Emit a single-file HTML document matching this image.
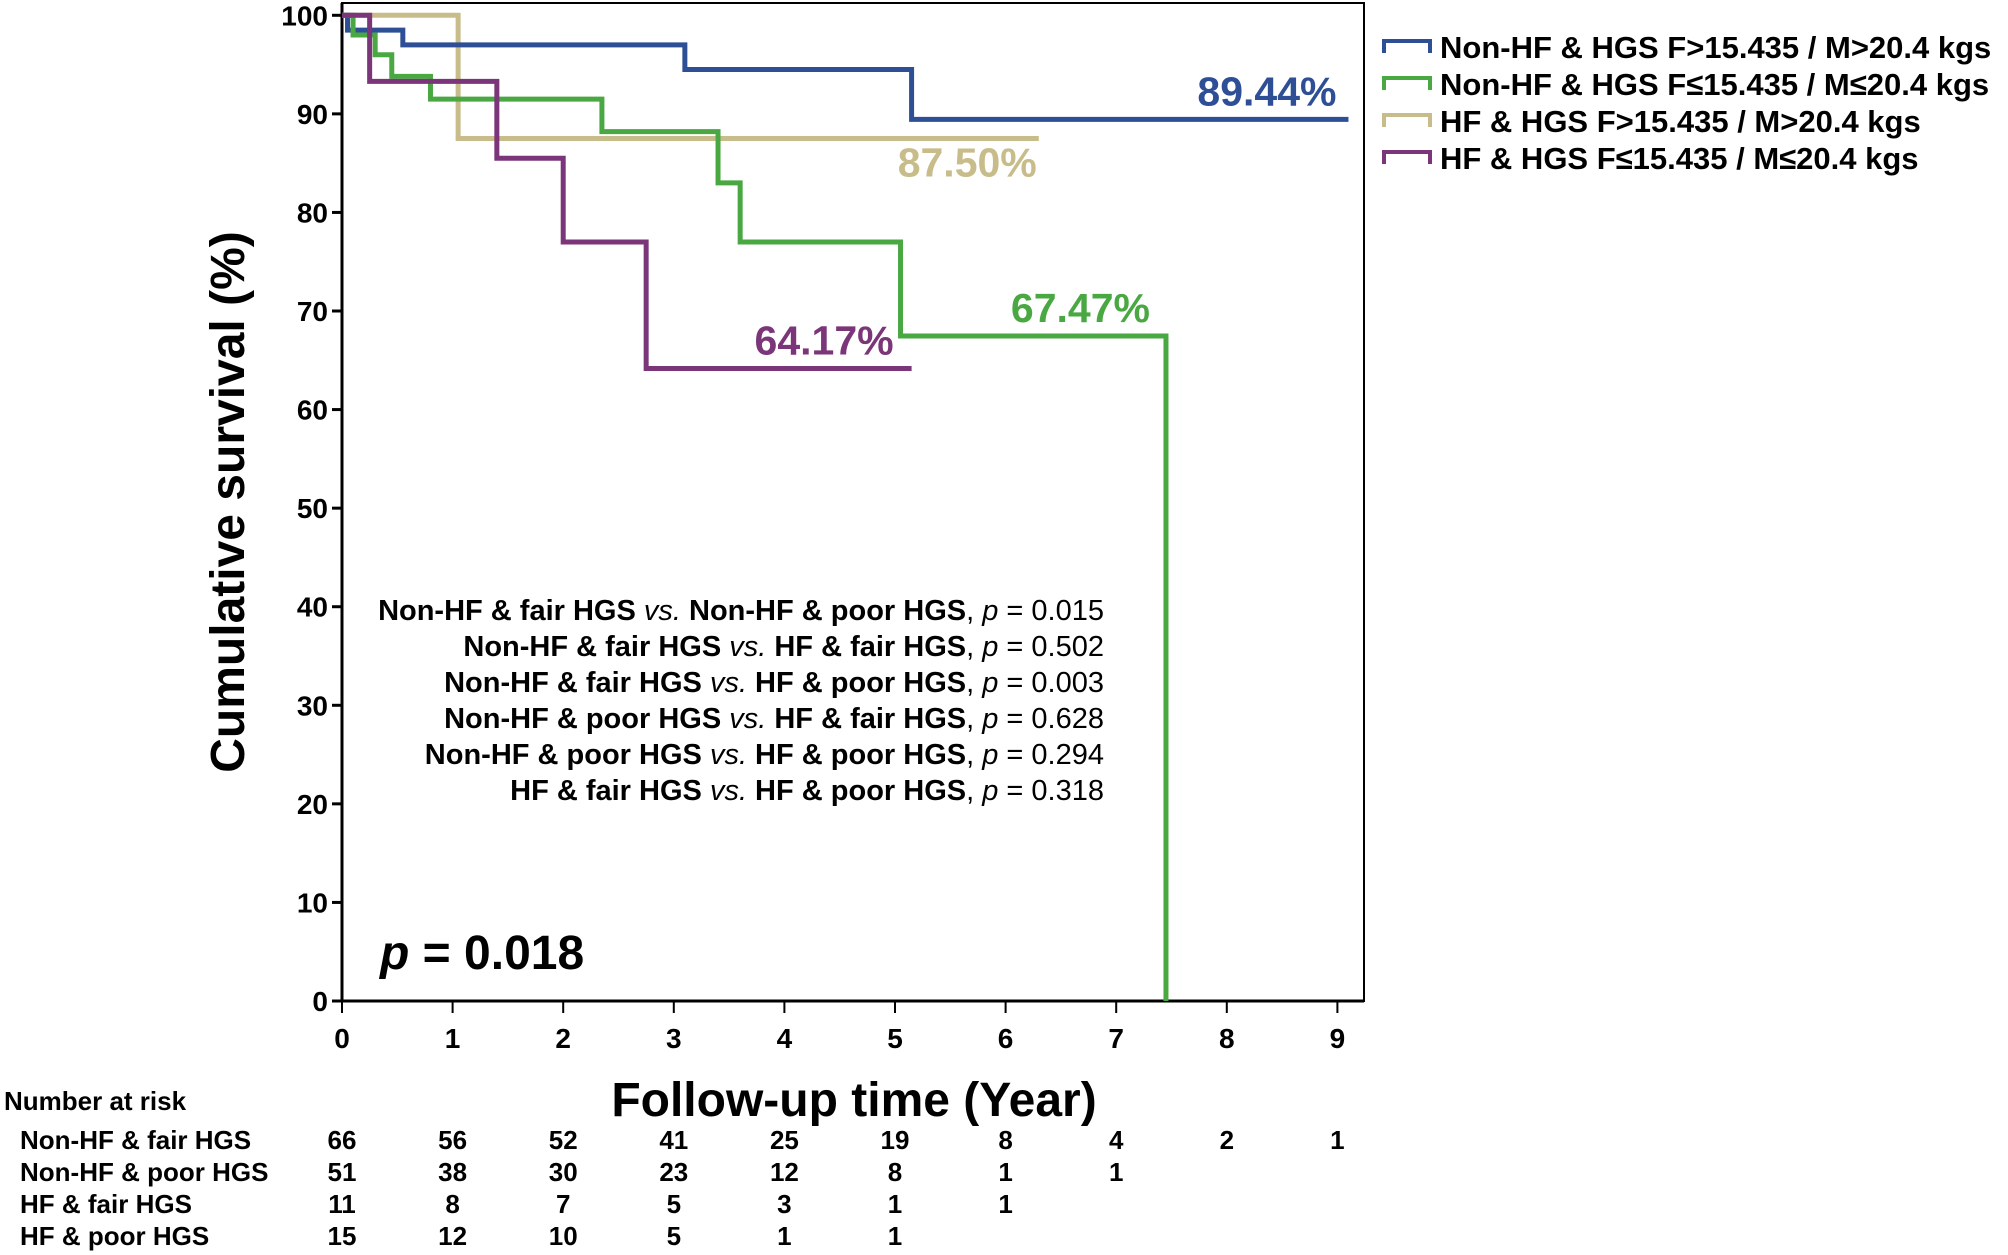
<!DOCTYPE html>
<html><head><meta charset="utf-8"><style>
html,body{margin:0;padding:0;background:#fff;}
svg{display:block;font-family:"Liberation Sans",Arial,sans-serif;font-weight:bold;}
</style></head><body>
<svg id="chart" width="2008" height="1255" viewBox="0 0 2008 1255"></svg>
<script>
const xTicks=[0,1,2,3,4,5,6,7,8,9];
const yTicks=[0,10,20,30,40,50,60,70,80,90,100];
const seriesNames=["Non-HF & HGS F>15.435 / M>20.4 kgs","Non-HF & HGS F\u226415.435 / M\u226420.4 kgs","HF & HGS F>15.435 / M>20.4 kgs","HF & HGS F\u226415.435 / M\u226420.4 kgs"];
const blueT=[0,0.05,0.55,3.1,5.15,9.1];
const blueS=[100,98.5,97,94.5,89.44,89.44];
const greenT=[0,0.1,0.3,0.45,0.8,2.35,3.4,3.6,5.05,7.45,7.45];
const greenS=[100,98,96,93.8,91.5,88.2,83,77,67.47,67.47,0];
const tanT=[0,1.05,6.3];
const tanS=[100,87.5,87.5];
const purpleT=[0,0.25,1.4,2.0,2.75,5.15];
const purpleS=[100,93.3,85.5,77,64.17,64.17];
const endLabels=["89.44%","67.47%","87.50%","64.17%"];
const riskGroups=["Non-HF & fair HGS","Non-HF & poor HGS","HF & fair HGS","HF & poor HGS"];
const risk1=[66,56,52,41,25,19,8,4,2,1];
const risk2=[51,38,30,23,12,8,1,1];
const risk3=[11,8,7,5,3,1,1];
const risk4=[15,12,10,5,1,1];
const pTexts=[["Non-HF & fair HGS ","Non-HF & poor HGS","0.015"],["Non-HF & fair HGS ","HF & fair HGS","0.502"],["Non-HF & fair HGS ","HF & poor HGS","0.003"],["Non-HF & poor HGS ","HF & fair HGS","0.628"],["Non-HF & poor HGS ","HF & poor HGS","0.294"],["HF & fair HGS ","HF & poor HGS","0.318"]];

const X0=342,XPER=110.6,Y0=1001,YPER=9.857;
const sx=t=>X0+t*XPER, sy=v=>Y0-v*YPER;
const svg=document.getElementById('chart');
const NS='http://www.w3.org/2000/svg';
function mk(tag,attrs,parent){const e=document.createElementNS(NS,tag);for(const k in attrs)e.setAttribute(k,attrs[k]);(parent||svg).appendChild(e);return e;}
function txt(s,x,y,size,anchor,fill,parent){const e=mk('text',{x:x,y:y,'font-size':size,'text-anchor':anchor||'start',fill:fill||'#000'},parent);e.textContent=s;return e;}

const frame=mk('rect',{x:X0,y:3,width:1364-X0,height:Y0-3,fill:'none',stroke:'#000','stroke-width':2});


mk('line',{x1:X0,y1:Y0,x2:1364,y2:Y0,stroke:'#000','stroke-width':3});
mk('line',{x1:X0,y1:3,x2:X0,y2:Y0,stroke:'#000','stroke-width':3});

yTicks.forEach(v=>{
  mk('line',{x1:X0-10,y1:sy(v),x2:X0,y2:sy(v),stroke:'#000','stroke-width':3});
  const t=txt(String(v),X0-14,sy(v)+10,28,'end');
  
  
});
xTicks.forEach(v=>{
  mk('line',{x1:sx(v),y1:Y0,x2:sx(v),y2:Y0+12,stroke:'#000','stroke-width':2});
  const t=txt(String(v),sx(v),Y0+47,28,'middle');
  
  
});
const yt=txt('Cumulative survival (%)',0,0,48,'middle');
yt.setAttribute('transform','translate(244,502) rotate(-90)');


const xt=txt('Follow-up time (Year)',854,1116,48,'middle');



function stepPath(T,S){let d='M'+sx(T[0])+','+sy(S[0]);for(let i=1;i<T.length;i++){d+=' H'+sx(T[i])+' V'+sy(S[i]);}return d;}
const colors=['#2e4f95','#4aa843','#c8bd8a','#7b3579'];
const series=[[blueT,blueS,'curve-non-hf-fair'],[greenT,greenS,'curve-non-hf-poor'],[tanT,tanS,'curve-hf-fair'],[purpleT,purpleS,'curve-hf-poor']];
[2,0,1,3].forEach(i=>{
  const p=mk('path',{d:stepPath(series[i][0],series[i][1]),fill:'none',stroke:colors[i],'stroke-width':5});
  
  
});
const lab=[[blueT,blueS,0,-14,-12],[greenT,greenS,1,-14,-16],[tanT,tanS,2,38,-2],[purpleT,purpleS,3,-14,-18]];
lab.forEach(([T,S,i,dy,dx])=>{
  let idx=i===1?T.length-3:T.length-1;
  let xe=sx(T[T.length-1])+dx;
  const t=txt(endLabels[i],xe,sy(S[idx])+dy,41,'end',colors[i]);
  
  
});
seriesNames.forEach((n,i)=>{
  const y=47+i*37;
  const g=mk('g',{});
  
  
  mk('path',{d:`M1384,${y+6} V${y-6} H1430 V${y+6}`,fill:'none',stroke:colors[i],'stroke-width':4},g);
  txt(n,1440,y+11,31,'start','#000',g);
});
pTexts.forEach((p,i)=>{
  const y=620+i*36;
  const t=mk('text',{x:1104,y:y,'font-size':29,'text-anchor':'end'});
  
  
  t.innerHTML=`${p[0].replace(/&/g,'&amp;')}<tspan font-style="italic" font-weight="normal">vs.</tspan> ${p[1].replace(/&/g,'&amp;')}<tspan font-weight="normal">, </tspan><tspan font-style="italic" font-weight="normal">p</tspan><tspan font-weight="normal"> = ${p[2]}</tspan>`;
});
const pm=mk('text',{x:380,y:969,'font-size':48});


pm.innerHTML='<tspan font-style="italic">p</tspan> = 0.018';
const rt=txt('Number at risk',4,1110,26,'start');


const risks=[risk1,risk2,risk3,risk4];
riskGroups.forEach((g,r)=>{
  const y=1149+r*32;
  const t=txt(g,20,y,26,'start');
  
  
  risks[r].forEach((v,i)=>{
    const n=txt(String(v),sx(xTicks[i]),y,26,'middle');
    
    
  });
});
</script>
</body></html>
